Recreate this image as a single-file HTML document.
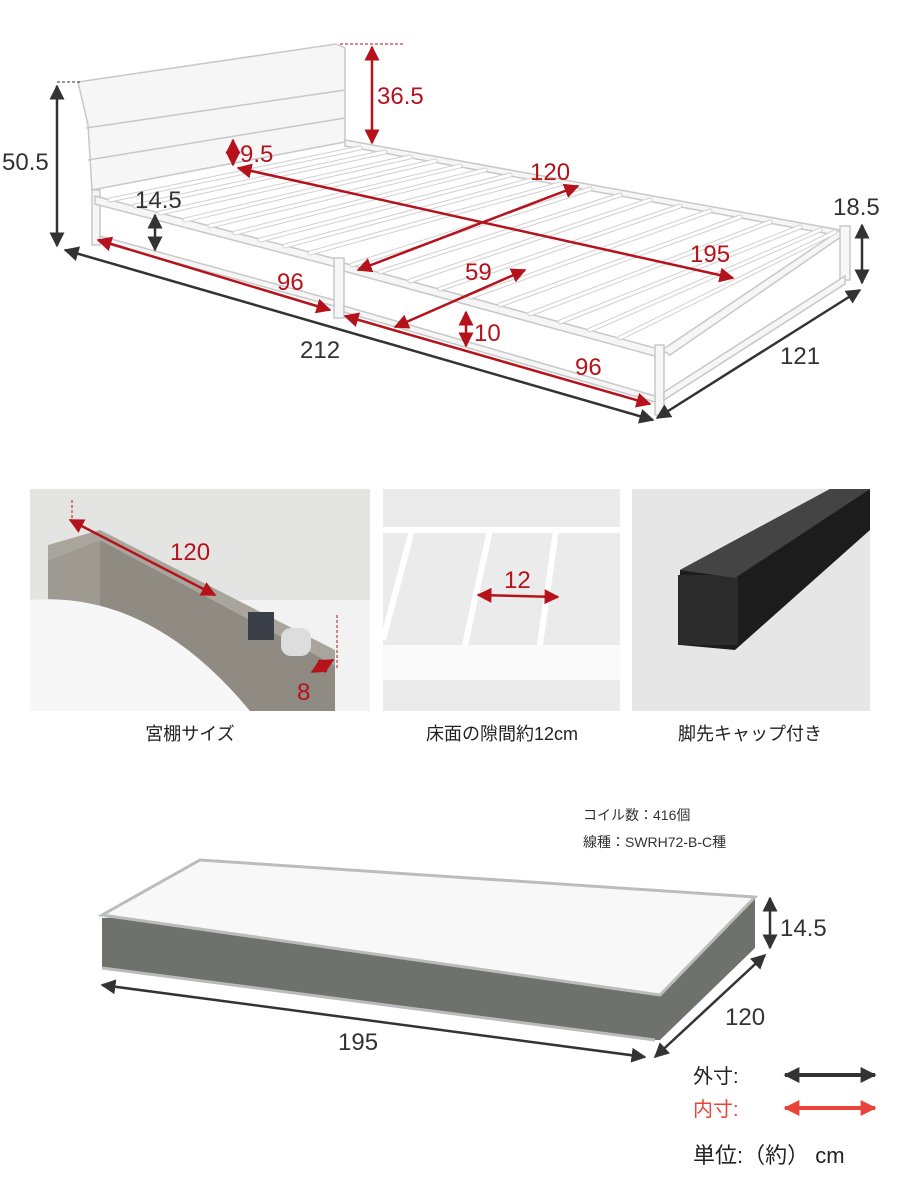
<!DOCTYPE html>
<html><head><meta charset="utf-8"><style>
html,body{margin:0;padding:0;background:#fff;}
svg{display:block;font-family:"Liberation Sans","Noto Sans CJK JP",sans-serif;}
</style></head><body>
<svg width="900" height="1200" viewBox="0 0 900 1200" xmlns="http://www.w3.org/2000/svg">
<defs>
<marker id="ad" viewBox="0 0 10 10" refX="9" refY="5" markerWidth="6" markerHeight="6" orient="auto-start-reverse"><path d="M0,0L10,5L0,10z" fill="#333"/></marker>
<marker id="ar" viewBox="0 0 10 10" refX="9" refY="5" markerWidth="6" markerHeight="6" orient="auto-start-reverse"><path d="M0,0L10,5L0,10z" fill="#b5121b"/></marker>
<marker id="ar2" viewBox="0 0 10 10" refX="9" refY="5" markerWidth="4" markerHeight="4" orient="auto-start-reverse"><path d="M0,0L10,5L0,10z" fill="#e8443a"/></marker>
<marker id="ad2" viewBox="0 0 10 10" refX="9" refY="5" markerWidth="4" markerHeight="4" orient="auto-start-reverse"><path d="M0,0L10,5L0,10z" fill="#333"/></marker>
</defs>

<!-- BED FRAME -->
<g stroke="#c8c8c8" stroke-width="1.5" fill="#f6f6f6">
  <polygon points="78,82 336,44 345,48 345,142 92,190 88,125"/>
  <line x1="86" y1="128" x2="345" y2="90"/>
  <line x1="88" y1="160" x2="345" y2="118"/>
  <polygon points="92,190 100,190 100,245 92,245"/>
  <!-- left rail -->
  <polygon points="95,196 340,260 340,268 95,204"/>
  <polygon points="340,262 662,350 662,358 340,270"/>
  <!-- right rail -->
  <polygon points="345,140 840,230 840,236 345,146"/>
  <!-- foot -->
  <polygon points="662,350 840,230 848,232 670,355"/>
  <polygon points="655,345 664,345 664,415 655,415"/>
  <polygon points="840,226 850,226 850,280 840,280"/>
  <polygon points="334,258 344,258 344,318 334,318"/>
  <polygon points="664,392 845,276 845,284 664,400"/>
  <polygon points="100,236 334,300 334,306 100,242"/>
  <polygon points="344,306 655,396 655,402 344,312"/>
</g>
<g stroke="#d0d0d0" stroke-width="5" stroke-linecap="round">
  <line x1="110" y1="200" x2="360" y2="148"/><line x1="135" y1="206" x2="385" y2="152"/>
  <line x1="160" y1="213" x2="410" y2="157"/><line x1="185" y1="220" x2="435" y2="161"/>
  <line x1="210" y1="226" x2="460" y2="166"/><line x1="235" y1="233" x2="485" y2="170"/>
  <line x1="260" y1="240" x2="510" y2="175"/><line x1="285" y1="246" x2="535" y2="179"/>
  <line x1="310" y1="253" x2="560" y2="184"/><line x1="352" y1="265" x2="590" y2="189"/>
  <line x1="380" y1="272" x2="620" y2="195"/><line x1="410" y1="281" x2="650" y2="200"/>
  <line x1="440" y1="289" x2="680" y2="206"/><line x1="470" y1="297" x2="710" y2="211"/>
  <line x1="500" y1="305" x2="740" y2="217"/><line x1="530" y1="314" x2="770" y2="222"/>
  <line x1="560" y1="322" x2="800" y2="227"/><line x1="590" y1="330" x2="820" y2="230"/>
  <line x1="620" y1="338" x2="835" y2="232"/>
</g>
<g stroke="#fff" stroke-width="3" stroke-linecap="round">
  <line x1="110" y1="200" x2="360" y2="148"/><line x1="135" y1="206" x2="385" y2="152"/>
  <line x1="160" y1="213" x2="410" y2="157"/><line x1="185" y1="220" x2="435" y2="161"/>
  <line x1="210" y1="226" x2="460" y2="166"/><line x1="235" y1="233" x2="485" y2="170"/>
  <line x1="260" y1="240" x2="510" y2="175"/><line x1="285" y1="246" x2="535" y2="179"/>
  <line x1="310" y1="253" x2="560" y2="184"/><line x1="352" y1="265" x2="590" y2="189"/>
  <line x1="380" y1="272" x2="620" y2="195"/><line x1="410" y1="281" x2="650" y2="200"/>
  <line x1="440" y1="289" x2="680" y2="206"/><line x1="470" y1="297" x2="710" y2="211"/>
  <line x1="500" y1="305" x2="740" y2="217"/><line x1="530" y1="314" x2="770" y2="222"/>
  <line x1="560" y1="322" x2="800" y2="227"/><line x1="590" y1="330" x2="820" y2="230"/>
  <line x1="620" y1="338" x2="835" y2="232"/>
</g>

<!-- dimension lines -->
<g stroke-width="2.5" fill="none">
  <line x1="57" y1="82" x2="80" y2="82" stroke="#333" stroke-width="1" stroke-dasharray="3,2"/>
  <line x1="57" y1="86" x2="57" y2="246" stroke="#333" marker-start="url(#ad)" marker-end="url(#ad)"/>
  <line x1="340" y1="44" x2="405" y2="44" stroke="#b5121b" stroke-width="1" stroke-dasharray="3,2"/>
  <line x1="372" y1="47" x2="372" y2="143" stroke="#b5121b" marker-start="url(#ar)" marker-end="url(#ar)"/>
  <line x1="233" y1="140" x2="233" y2="165" stroke="#b5121b" marker-start="url(#ar)" marker-end="url(#ar)"/>
  <line x1="155" y1="215" x2="155" y2="250" stroke="#333" marker-start="url(#ad)" marker-end="url(#ad)"/>
  <line x1="238" y1="168" x2="733" y2="278" stroke="#b5121b" marker-start="url(#ar)" marker-end="url(#ar)"/>
  <line x1="358" y1="270" x2="578" y2="186" stroke="#b5121b" marker-start="url(#ar)" marker-end="url(#ar)"/>
  <line x1="395" y1="327" x2="525" y2="270" stroke="#b5121b" marker-start="url(#ar)" marker-end="url(#ar)"/>
  <line x1="466" y1="312" x2="466" y2="346" stroke="#b5121b" marker-start="url(#ar)" marker-end="url(#ar)"/>
  <line x1="98" y1="240" x2="330" y2="310" stroke="#b5121b" marker-start="url(#ar)" marker-end="url(#ar)"/>
  <line x1="345" y1="316" x2="650" y2="404" stroke="#b5121b" marker-start="url(#ar)" marker-end="url(#ar)"/>
  <line x1="65" y1="250" x2="653" y2="420" stroke="#333" marker-start="url(#ad)" marker-end="url(#ad)"/>
  <line x1="657" y1="418" x2="860" y2="290" stroke="#333" marker-start="url(#ad)" marker-end="url(#ad)"/>
  <line x1="862" y1="225" x2="862" y2="283" stroke="#333" marker-start="url(#ad)" marker-end="url(#ad)"/>
</g>
<g font-size="24" fill="#333">
  <text x="2" y="170">50.5</text>
  <text x="377" y="104" fill="#b5121b">36.5</text>
  <text x="240" y="162" fill="#b5121b">9.5</text>
  <text x="135" y="208">14.5</text>
  <text x="530" y="180" fill="#b5121b">120</text>
  <text x="690" y="262" fill="#b5121b">195</text>
  <text x="465" y="280" fill="#b5121b">59</text>
  <text x="474" y="341" fill="#b5121b">10</text>
  <text x="277" y="290" fill="#b5121b">96</text>
  <text x="575" y="375" fill="#b5121b">96</text>
  <text x="300" y="358">212</text>
  <text x="780" y="364">121</text>
  <text x="833" y="215">18.5</text>
</g>

<!-- PANEL 1 -->
<rect x="30" y="489" width="340" height="222" fill="#e4e4e2"/>
<rect x="30" y="600" width="340" height="111" fill="#f2f2f2"/>
<polygon points="48,560 100,540 100,711 48,711" fill="#9e9a92"/>
<polygon points="100,540 335,665 335,711 100,711" fill="#8f8b83"/>
<polygon points="48,545 100,530 335,650 335,665 100,540 48,560" fill="#aaa59c"/>
<path d="M30,600 Q150,590 250,711 L30,711z" fill="#f7f7f7"/>
<rect x="248" y="612" width="26" height="28" fill="#3b4048"/>
<rect x="281" y="628" width="30" height="28" rx="10" fill="#ddd"/>
<line x1="70" y1="520" x2="215" y2="595" stroke="#b5121b" stroke-width="2.5" marker-start="url(#ar)" marker-end="url(#ar)"/>
<line x1="72" y1="500" x2="72" y2="522" stroke="#b5121b" stroke-width="1" stroke-dasharray="3,2"/>
<line x1="337" y1="615" x2="337" y2="668" stroke="#b5121b" stroke-width="1" stroke-dasharray="3,2"/>
<line x1="312" y1="672" x2="333" y2="660" stroke="#b5121b" stroke-width="2.5" marker-start="url(#ar)" marker-end="url(#ar)"/>
<text x="170" y="560" font-size="24" fill="#b5121b">120</text>
<text x="297" y="700" font-size="24" fill="#b5121b">8</text>

<!-- PANEL 2 -->
<rect x="383" y="489" width="237" height="222" fill="#ebebeb"/>
<polygon points="383,645 620,645 620,680 383,680" fill="#fafafa"/>
<g stroke="#fff" stroke-width="6"><line x1="412" y1="530" x2="383" y2="640"/><line x1="490" y1="530" x2="465" y2="645"/><line x1="556" y1="530" x2="540" y2="645"/></g>
<line x1="383" y1="530" x2="620" y2="530" stroke="#fff" stroke-width="6"/>
<line x1="478" y1="595" x2="558" y2="597" stroke="#b5121b" stroke-width="2.5" marker-start="url(#ar)" marker-end="url(#ar)"/>
<text x="504" y="588" font-size="24" fill="#b5121b">12</text>

<!-- PANEL 3 -->
<rect x="632" y="489" width="238" height="222" fill="#e6e6e6"/>
<polygon points="680,570 830,489 870,489 870,530 735,650 680,645" fill="#1c1c1c"/>
<rect x="678" y="575" width="60" height="70" fill="#2b2b2b"/>
<polygon points="680,570 830,489 870,489 735,578" fill="#444"/>

<g font-size="18" fill="#222" text-anchor="middle">
  <text x="190" y="740">宮棚サイズ</text>
  <text x="502" y="740">床面の隙間約12cm</text>
  <text x="750" y="740">脚先キャップ付き</text>
</g>

<!-- MATTRESS -->
<text x="583" y="820" font-size="14" fill="#333">コイル数：416個</text>
<text x="583" y="847" font-size="14" fill="#333">線種：SWRH72-B-C種</text>
<polygon points="102,918 102,968 650,1040 660,1040 755,948 755,898" fill="#6f716d"/>
<polygon points="102,915 200,860 755,897 660,995" fill="#f8f8f8" stroke="#bcbcbc" stroke-width="3"/>
<line x1="102" y1="968" x2="655" y2="1040" stroke="#bbb" stroke-width="3"/>
<line x1="102" y1="985" x2="645" y2="1057" stroke="#333" stroke-width="2.5" marker-start="url(#ad)" marker-end="url(#ad)"/>
<line x1="655" y1="1057" x2="765" y2="955" stroke="#333" stroke-width="2.5" marker-start="url(#ad)" marker-end="url(#ad)"/>
<line x1="770" y1="898" x2="770" y2="948" stroke="#333" stroke-width="2.5" marker-start="url(#ad)" marker-end="url(#ad)"/>
<g font-size="24" fill="#333">
  <text x="338" y="1050">195</text>
  <text x="725" y="1025">120</text>
  <text x="780" y="936">14.5</text>
</g>

<!-- legend -->
<text x="693" y="1083" font-size="20" fill="#222">外寸:</text>
<line x1="785" y1="1075" x2="875" y2="1075" stroke="#333" stroke-width="4" marker-start="url(#ad2)" marker-end="url(#ad2)"/>
<text x="693" y="1116" font-size="20" fill="#e8443a">内寸:</text>
<line x1="785" y1="1108" x2="875" y2="1108" stroke="#e8443a" stroke-width="4" marker-start="url(#ar2)" marker-end="url(#ar2)"/>
<text x="693" y="1163" font-size="22" fill="#222">単位:（約） cm</text>
</svg>
</body></html>
